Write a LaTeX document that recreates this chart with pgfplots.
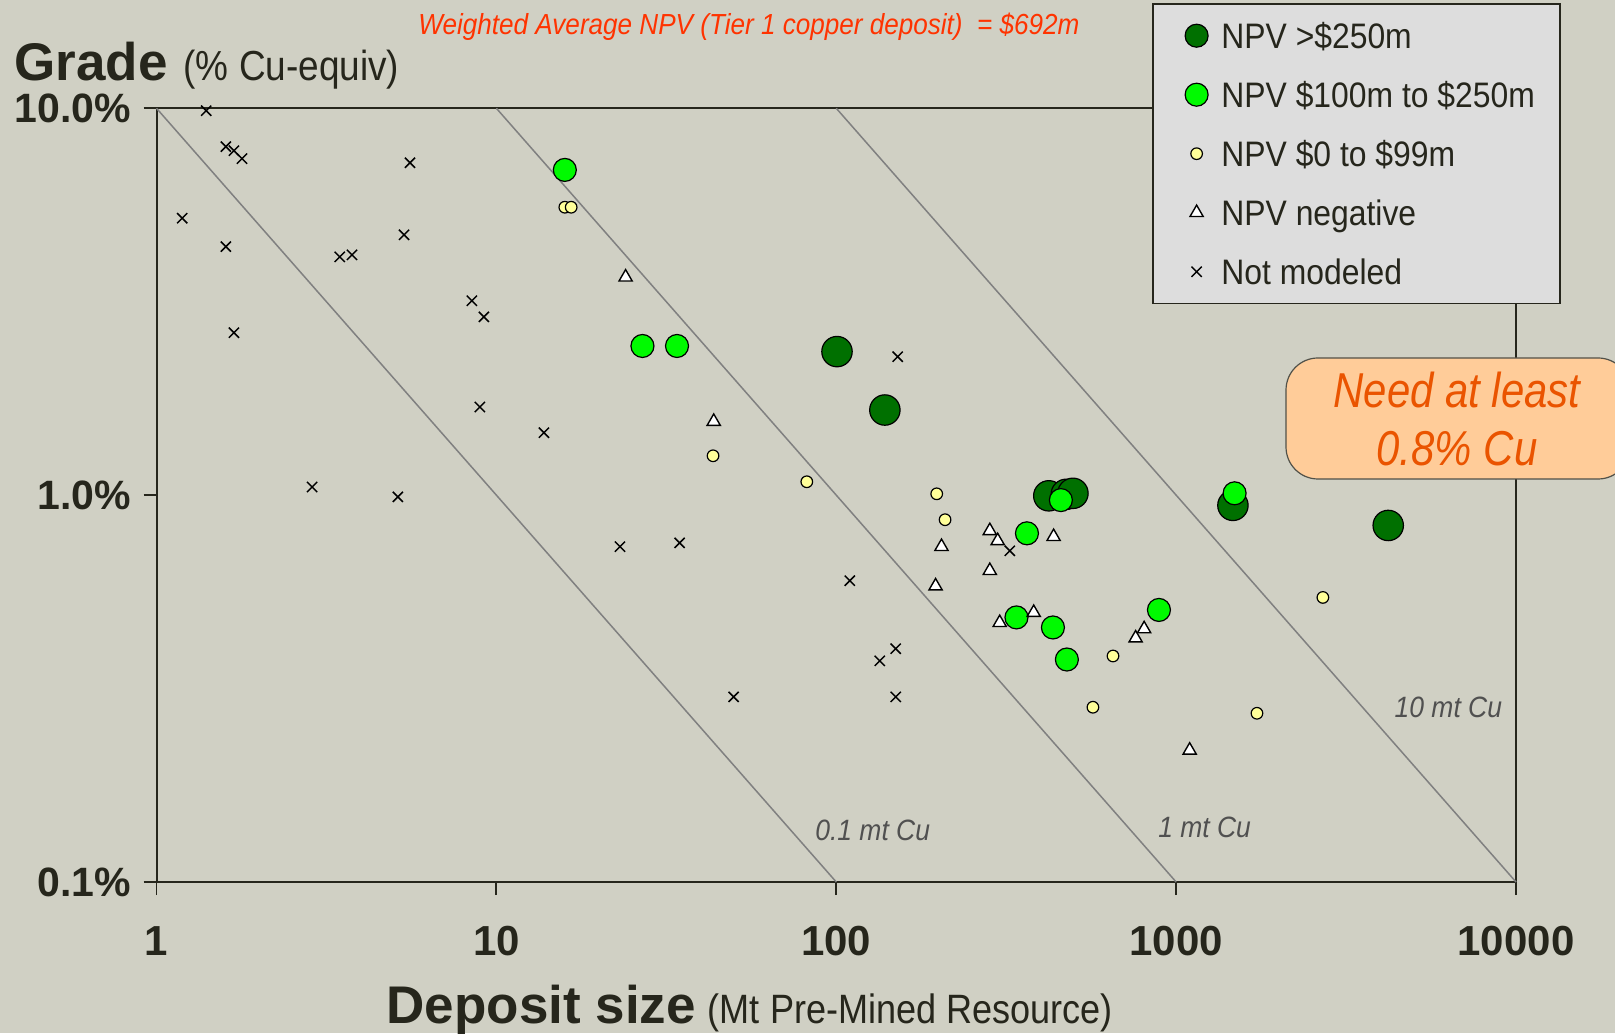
\documentclass[border=0pt]{standalone}
\usepackage{pgfplots}
\pgfplotsset{compat=1.18}
\usepackage{fontspec}
\setmainfont{Liberation Sans}
\newfontfamily\nar{Liberation Sans}[FakeStretch=0.9]
\newfontfamily\narr{Liberation Sans}[FakeStretch=0.88]
\newfontfamily\narb{Liberation Sans}[FakeStretch=0.855]
\definecolor{bg}{RGB}{208,208,196}
\definecolor{legfill}{RGB}{221,221,221}
\definecolor{txt}{RGB}{38,38,28}
\definecolor{titlered}{RGB}{255,51,0}
\definecolor{darkgr}{RGB}{0,112,0}
\definecolor{lightgr}{RGB}{0,250,0}
\definecolor{paleyel}{RGB}{255,255,153}
\definecolor{boxfill}{RGB}{255,204,153}
\definecolor{boxtext}{RGB}{234,84,0}
\definecolor{diag}{RGB}{128,128,128}
\definecolor{diagtext}{RGB}{80,80,80}
\begin{document}
\begin{tikzpicture}[x=1pt,y=1pt]
\path[use as bounding box, fill=bg] (0,0) rectangle (807.5,516.5);
\begin{axis}[
  at={(78.25pt,75.5pt)}, anchor=south west,
  scale only axis, width=679.75pt, height=386.85pt,
  xmode=log, ymode=log,
  xmin=1, xmax=10000, ymin=0.1, ymax=10,
  xtick={1,10,100,1000,10000},
  xticklabels={1,10,100,1000,10000},
  ytick={0.1,1,10},
  yticklabels={0.1\%,1.0\%,10.0\%},
  xminorticks=false, yminorticks=false,
  tick pos=left,
  tick align=outside,
  major tick length=6.5pt,
  tick style={color=txt, line width=0.9pt},
  axis line style={color=txt, line width=1pt},
  clip=false,
  xticklabel style={font=\bfseries\fontsize{21}{21}\selectfont, text=txt, inner sep=0pt, anchor=north, yshift=-15.5pt},
  yticklabel style={font=\bfseries\fontsize{20.5}{21}\selectfont, text=txt, inner sep=0pt, anchor=east, xshift=-6.2pt},
  xlabel={{\bfseries\fontsize{26.5}{28}\selectfont Deposit size}\hspace{6pt}{\narr\fontsize{20.5}{24}\selectfont (Mt Pre-Mined Resource)}},
  xlabel style={at={(axis description cs:0.1690,-0.1825)}, anchor=base west, inner sep=0pt, text=txt},
  ylabel={{\bfseries\fontsize{26.5}{28}\selectfont Grade}\hspace{8pt}{\narr\fontsize{21}{24}\selectfont (\% Cu-equiv)}},
  ylabel style={rotate=-90, at={(axis description cs:-0.1048,1.0355)}, anchor=base west, inner sep=0pt, text=txt},
  title={\nar\itshape\fontsize{14.5}{16}\selectfont Weighted Average NPV (Tier 1 copper deposit)\ \ = \$692m},
  title style={at={(axis description cs:0.1924,1.0801)}, anchor=base west, inner sep=0pt, text=titlered},
  legend style={at={(axis description cs:0.73226,1.1361)}, anchor=north west,
    fill=legfill, draw=txt, line width=0.8pt,
    font=\nar\fontsize{17.7}{20}\selectfont, text=txt,
    inner xsep=12.5pt, inner ysep=9.6pt, row sep=16.8pt,
    nodes={text height=12.7pt, text depth=0pt, inner sep=0pt},
    /tikz/every odd column/.append style={column sep=6pt}},
  legend cell align=left,
  legend image code/.code={\path (-9pt,0pt) (6pt,0pt); \draw[#1] plot coordinates {(0pt,0pt)};},
]
% lines of constant contained copper
\addplot[forget plot, diag, line width=0.75pt] coordinates {(1,10) (100,0.1)};
\addplot[forget plot, diag, line width=0.75pt] coordinates {(10,10) (1000,0.1)};
\addplot[forget plot, diag, line width=0.75pt] coordinates {(100,10) (10000,0.1)};
% NPV > $250m
\addplot[only marks, mark=*, mark size=7.6pt, mark options={fill=darkgr, draw=black, line width=0.6pt},
  legend image post style={mark size=5.75pt}] coordinates {
  (100.5,2.35) (139,1.66) (422,0.996) (475,1.005) (497,1.011) (1469,0.941) (4207,0.835)};
% NPV $100m to $250m
\addplot[only marks, mark=*, mark size=5.75pt, mark options={fill=lightgr, draw=black, line width=0.6pt}] coordinates {
  (15.9,6.93) (26.9,2.43) (34.0,2.43) (364,0.797) (339,0.483) (434,0.455) (477,0.376) (458,0.971) (1486,1.011) (890,0.505)};
% NPV $0 to $99m
\addplot[only marks, mark=*, mark size=2.9pt, mark options={fill=paleyel, draw=black, line width=0.6pt}] coordinates {
  (15.9,5.55) (16.6,5.55) (43.4,1.264) (81.9,1.083) (197.5,1.008) (209,0.864) (652,0.384) (569,0.283) (1729,0.273) (2702,0.544)};
% NPV negative
\addplot[only marks, mark=triangle*, mark size=3.8pt, mark options={fill=white, draw=black, line width=0.7pt}] coordinates {
  (24.0,3.66) (43.6,1.55) (283,0.809) (298.5,0.762) (204,0.736) (283,0.638) (196,0.582) (302.6,0.468) (381,0.497) (436,0.781) (760,0.427) (805,0.451) (1096,0.219)};
% Not modeled
\addplot[only marks, mark=x, mark size=3.6pt, mark options={draw=black, line width=0.75pt}] coordinates {
  (1.40,9.86) (1.60,7.96) (1.69,7.77) (1.785,7.41) (5.57,7.23) (1.19,5.20) (1.60,4.39) (3.46,4.13) (3.76,4.18) (5.35,4.71)
  (8.47,3.18) (9.19,2.89) (1.69,2.63) (8.94,1.69) (13.8,1.45) (2.87,1.05) (5.13,0.99) (23.1,0.736) (34.6,0.753)
  (151.6,2.28) (109.6,0.601) (149.6,0.401) (134.3,0.373) (49.9,0.301) (149.6,0.301) (324,0.718)};
\legend{NPV >\$250m, NPV \$100m to \$250m, NPV \$0 to \$99m, NPV negative, Not modeled}
\node[font=\nar\itshape\fontsize{14.7}{16}\selectfont, text=diagtext] at (axis cs:128,0.136) {0.1 mt Cu};
\node[font=\nar\itshape\fontsize{14.7}{16}\selectfont, text=diagtext] at (axis cs:1213,0.1387) {1 mt Cu};
\node[font=\nar\itshape\fontsize{14.7}{16}\selectfont, text=diagtext] at (axis cs:6324,0.283) {10 mt Cu};
\end{axis}
\node[draw=txt!80, line width=0.6pt, fill=boxfill, rounded corners=16pt, minimum width=172pt, minimum height=60.5pt] at (729,307.25) {};
\node[anchor=base, inner sep=0pt, font=\narb\itshape\fontsize{24.5}{29}\selectfont, text=boxtext] at (728.5,312.5) {Need at least};
\node[anchor=base, inner sep=0pt, font=\narb\itshape\fontsize{24.5}{29}\selectfont, text=boxtext] at (728.5,283.5) {0.8\% Cu};
\end{tikzpicture}
\end{document}
